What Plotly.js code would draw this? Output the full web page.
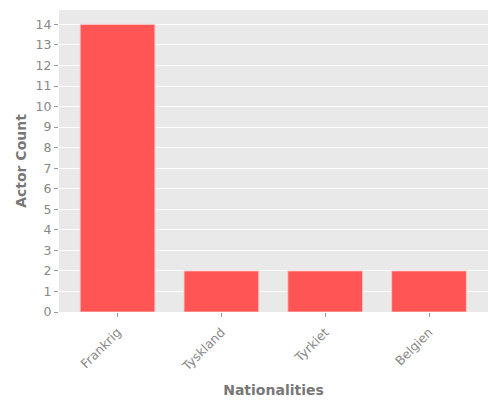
<!DOCTYPE html>
<html>
<head>
<meta charset="utf-8">
<script src="https://cdn.plot.ly/plotly-3.0.1.min.js"></script>
<style>
  html, body { margin: 0; padding: 0; background: #fff; }
  #chart { width: 500px; height: 400px; }
</style>
</head>
<body>
<div id="chart"></div>
<script>
var nationalities = ['Frankrig', 'Tyskland', 'Tyrkiet', 'Belgien'];
var actorCounts = [14, 2, 2, 2];
var yTicks = [0, 1, 2, 3, 4, 5, 6, 7, 8, 9, 10, 11, 12, 13, 14];

var trace = {
    x: nationalities,
    y: actorCounts,
    type: 'bar',
    width: 0.72,
    marker: {
        color: '#ff5555',
        line: { color: 'rgba(255,200,200,0.9)', width: 1 }
    },
    hoverinfo: 'none'
};

var layout = {
    width: 500,
    height: 400,
    paper_bgcolor: '#ffffff',
    plot_bgcolor: '#e9e9e9',
    margin: { l: 59, r: 12, t: 10, b: 88 },
    font: { family: 'DejaVu Sans, sans-serif', color: '#777' },
    showlegend: false,
    bargap: 0,
    xaxis: {
        type: 'category',
        range: [-0.564, 3.568],
        tickangle: -45,
        ticks: 'outside',
        ticklen: 4,
        tickcolor: '#999',
        tickfont: { size: 12.5, color: '#888' },
        ticklabelstandoff: 3,
        showgrid: false,
        zeroline: false,
        showline: false,
        title: { text: 'Nationalities', font: { size: 14, color: '#777', weight: 'bold' }, standoff: 12 }
    },
    yaxis: {
        range: [0, 14.7],
        tickvals: yTicks,
        ticktext: yTicks.map(String),
        ticks: 'outside',
        ticklen: 4,
        tickcolor: '#999',
        tickfont: { size: 12.5, color: '#888' },
        showgrid: true,
        gridcolor: '#ffffff',
        gridwidth: 1,
        zeroline: false,
        showline: false,
        title: { text: 'Actor Count', font: { size: 14, color: '#777', weight: 'bold' }, standoff: 5 }
    }
};

Plotly.newPlot('chart', [trace], layout, { displayModeBar: false, staticPlot: true });
</script>
</body>
</html>
